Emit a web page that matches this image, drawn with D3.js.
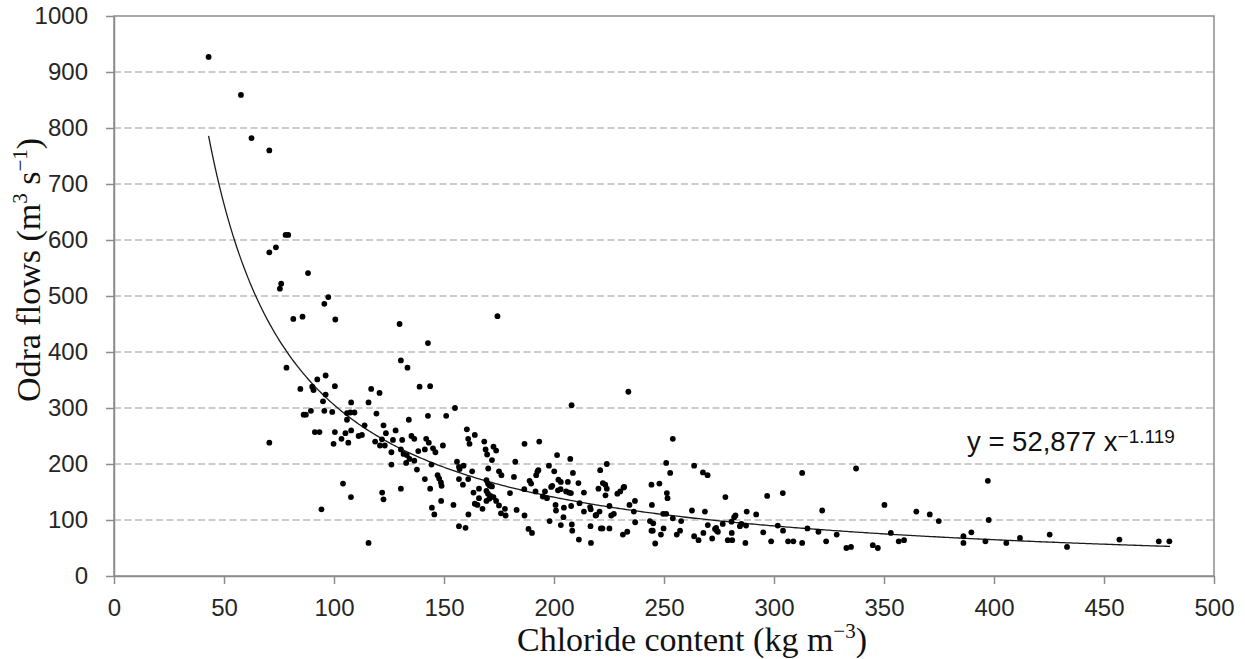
<!DOCTYPE html>
<html lang="en">
<head>
<meta charset="utf-8">
<script src="https://d3js.org/d3.v7.min.js"></script>
<style>
  body { margin: 0; background: #fff; }
  .tick text { font: 24px "Liberation Sans", sans-serif; fill: #262626; }
  .title { font-family: "Liberation Serif", serif; font-size: 34px; fill: #111; }
  .eq { font-family: "Liberation Sans", sans-serif; font-size: 27.5px; fill: #111; }
</style>
</head>
<body>
<script>
// chloride content (kg m-3) vs Odra flows (m3 s-1)
var observations = [
  [43.0,927],[57.7,859],[62.5,782],[70.6,760],[78.0,609],[79.2,609],[70.6,578],[73.6,587],[88.2,541],[76.0,522],
  [75.4,513],[97.4,498],[95.6,486],[81.5,459],[85.7,463],[100.6,458],
  [129.8,450],[142.7,416],[174.3,464],[130.4,385],[133.4,372],[78.4,372],[84.7,334],[92.4,351],[96.2,358],[90.1,338],
  [90.7,332],[100.4,339],[96.2,324],[95.0,312],[89.5,295],[86.2,288],[87.2,288],[95.6,295],[99.2,293],[107.8,310],
  [105.9,291],[107.4,292],[109.3,292],[105.9,279],[91.3,257],[93.4,257],[100.4,257],[70.6,238],[99.8,236],[105.2,255],
  [107.8,260],[103.4,245],[106.5,238],[111.2,250],[112.7,252],[113.9,269],[115.7,310],[116.9,334],[120.7,327],[119.3,290],
  [122.5,269],[123.6,255],[118.7,240],[120.9,233],[123.1,233],[121.8,244],[128.0,260],[126.8,243],[126.1,221],[126.1,199],
  [131.0,243],[134.0,279],[135.2,250],[136.5,245],[138.9,338],[143.7,339],[142.7,286],[151.0,286],[155.0,300],
  [130.4,226],[131.6,218],[133.1,216],[134.3,209],[132.8,202],[136.5,206],[137.7,190],
  [138.3,223],[141.3,226],[141.9,245],[143.1,238],[145.0,228],[146.1,221],[149.5,233],[144.3,199],[141.3,173],
  [143.7,156],[130.4,156],[121.9,149],[122.5,137],[104.1,165],[107.7,141],[94.3,119],[115.7,59],[144.5,122],[145.6,110],
  [147.1,180],[147.8,174],[148.6,167],[148.9,161],[148.7,134],[154.3,127],[155.9,204],[156.8,195],[157.1,191],[158.9,197],
  [156.8,173],[158.6,163],[156.8,89],[159.8,86],[161.1,110],[161.0,245],[161.6,236],[164.0,252],[160.4,262],[162.8,187],
  [161.0,173],[163.4,149],[165.9,156],[164.0,129],[165.9,139],[165.2,127],[167.5,120],[168.3,240],[168.9,226],[169.6,217],
  [170.1,192],[169.3,171],[170.0,165],[170.6,162],[171.1,161],[171.8,160],[169.3,152],[170.0,147],[171.1,143],[169.3,134],
  [170.6,138],[171.8,207],[172.5,231],[173.7,224],[172.5,141],[173.7,134],[175.0,126],[175.9,112],[178.0,108],[175.0,187],
  [176.1,180],[177.7,120],[180.0,148],[181.8,177],[182.4,204],[183.0,118],[186.6,236],[186.6,108],[186.5,155],[188.4,84],
  [190.0,77],[188.9,170],[189.6,165],[191.9,180],[192.5,187],[192.9,189],[191.6,151],[193.3,240],[194.9,142],[195.9,151],
  [196.8,139],[197.7,197],[198.0,98],
  [208.0,305],[233.8,329],[254.0,245],[201.4,216],[200.1,187],[207.4,209],[208.6,184],[202.0,172],[203.1,168],[206.3,168],
  [198.7,159],[199.2,161],[201.8,153],[203.0,155],[205.5,151],[206.8,149],[207.7,148],[211.1,166],[213.6,149],[200.7,127],
  [200.9,117],[204.5,122],[207.8,125],[211.6,130],[213.6,115],[216.4,123],[216.7,119],[218.9,108],[204.3,105],[203.1,91],
  [208.1,92],[208.3,81],[211.3,65],[216.8,59],[216.6,89],[220.2,156],[221.0,189],[222.2,166],[223.3,163],[224.0,156],
  [223.4,144],[224.0,200],[219.2,109],[220.7,115],[221.3,85],[222.0,85],[225.2,125],[226.0,108],[227.2,111],[225.2,85],
  [228.8,147],[230.1,151],[231.6,158],[231.9,159],[234.3,127],[236.8,134],[236.3,115],[236.9,96],[231.3,74],[233.3,79],
  [244.3,163],[247.9,165],[244.5,127],[243.6,98],[245.1,94],[244.3,81],[244.9,81],[246.0,58],[248.6,74],[249.8,85],
  [249.6,111],[251.0,111],[251.0,202],[252.8,184],[251.3,148],[251.6,139],[254.0,103],[257.8,98],[255.8,74],[257.3,81],
  [262.7,117],[263.7,197],[267.7,185],[269.8,180],[268.6,115],[263.7,71],[265.7,64],[267.9,77],[269.9,91],[271.9,67],
  [273.2,84],[274.0,81],[274.5,79],[273.7,86],[276.7,93],[277.9,141],[279.0,64],[281.0,64],[280.8,77],[280.7,97],
  [281.9,105],[282.5,108],[284.5,89],[285.2,93],[287.0,59],[287.6,115],[287.3,90],[291.9,110],[295.1,78],[296.9,143],
  [298.7,62],[301.7,90],[304.1,81],[304.0,148],[306.4,62],[308.8,62],[312.8,184],[312.8,59],[315.2,85],[320.2,79],
  [321.9,117],[323.7,62],[328.5,74],[332.9,50],[335.0,52],[337.3,192],[344.9,55],[347.2,50],[350.2,127],[353.1,77],
  [356.7,62],[359.1,64],[364.7,115],[370.8,110],[374.9,98],
  [386.1,71],[386.1,59],[389.7,78],[396.1,62],[397.2,170],[397.6,100],[405.6,59],[411.8,68],[425.3,74],[433.2,52],
  [457.0,65],[474.9,62],[479.7,62]
];

var xTicks = [0, 50, 100, 150, 200, 250, 300, 350, 400, 450, 500];
var yTicks = [0, 100, 200, 300, 400, 500, 600, 700, 800, 900, 1000];

// power trend line y = a * x^b
var trendA = 52877;
var trendB = -1.119;
var trendFrom = 43;
var trendTo = 480;
var eqMain = "y = 52,877 x";
var eqPower = "\u22121.119";

var width = 1245, height = 659;
var margin = {top: 16, left: 114, right: 31, bottom: 83};
var w = width - margin.left - margin.right;
var h = height - margin.top - margin.bottom;

var svg = d3.select("body").append("svg")
    .attr("width", width)
    .attr("height", height);

var g = svg.append("g")
    .attr("transform", "translate(" + margin.left + "," + margin.top + ")");

var x = d3.scaleLinear().domain([0, 500]).range([0, w]);
var y = d3.scaleLinear().domain([0, 1000]).range([h, 0]);

// dashed gridlines
g.selectAll("line.grid")
  .data(yTicks.filter(function(d) { return d > 0 && d < 1000; }))
  .enter().append("line")
    .attr("class", "grid")
    .attr("x1", 0).attr("x2", w)
    .attr("y1", function(d) { return y(d); })
    .attr("y2", function(d) { return y(d); })
    .style("stroke", "#999")
    .style("stroke-width", 1.2)
    .style("stroke-dasharray", "7,3.5");

// plot border
g.append("rect")
  .attr("width", w).attr("height", h)
  .style("fill", "none")
  .style("stroke", "#8c8c8c")
  .style("stroke-width", 1.5);

var yAxis = g.append("g")
  .call(d3.axisLeft(y).tickValues(yTicks).tickFormat(d3.format("d"))
    .tickSize(8).tickSizeOuter(0).tickPadding(18));
var xAxis = g.append("g")
  .attr("transform", "translate(0," + h + ")")
  .call(d3.axisBottom(x).tickValues(xTicks).tickFormat(d3.format("d"))
    .tickSize(8).tickSizeOuter(0).tickPadding(15));

[yAxis, xAxis].forEach(function(a) {
  a.select(".domain").style("stroke", "#8c8c8c").style("stroke-width", 1.5);
  a.selectAll(".tick line").style("stroke", "#8c8c8c").style("stroke-width", 1.5);
});

// trend line
var trendXs = d3.range(trendFrom, trendTo + 0.1, 1);
var line = d3.line()
  .x(function(d) { return x(d); })
  .y(function(d) { return y(trendA * Math.pow(d, trendB)); });

g.append("path")
  .datum(trendXs)
  .attr("d", line)
  .style("fill", "none")
  .style("stroke", "#1a1a1a")
  .style("stroke-width", 1.3);

// points
g.selectAll("circle")
  .data(observations)
  .enter().append("circle")
    .attr("cx", function(d) { return x(d[0]); })
    .attr("cy", function(d) { return y(d[1]); })
    .attr("r", 2.9)
    .style("fill", "#000");

// equation label
var eq = svg.append("text")
  .attr("class", "eq")
  .attr("x", 967)
  .attr("y", 451);
eq.append("tspan").text(eqMain);
eq.append("tspan").attr("dy", -8).style("font-size", "19px").text(eqPower);

// axis titles
var xt = svg.append("text")
  .attr("class", "title")
  .attr("text-anchor", "middle")
  .attr("x", 692)
  .attr("y", 651);
xt.append("tspan").text("Chloride content (kg m");
xt.append("tspan").attr("dy", -13).style("font-size", "21px").text("\u22123");
xt.append("tspan").attr("dy", 13).text(")");

var yt = svg.append("text")
  .attr("class", "title")
  .attr("text-anchor", "middle")
  .attr("transform", "translate(40,270) rotate(-90)");
yt.append("tspan").text("Odra flows (m");
yt.append("tspan").attr("dy", -13).style("font-size", "21px").text("3");
yt.append("tspan").attr("dy", 13).text(" s");
yt.append("tspan").attr("dy", -13).style("font-size", "21px").text("\u22121");
yt.append("tspan").attr("dy", 13).text(")");
</script>
</body>
</html>
